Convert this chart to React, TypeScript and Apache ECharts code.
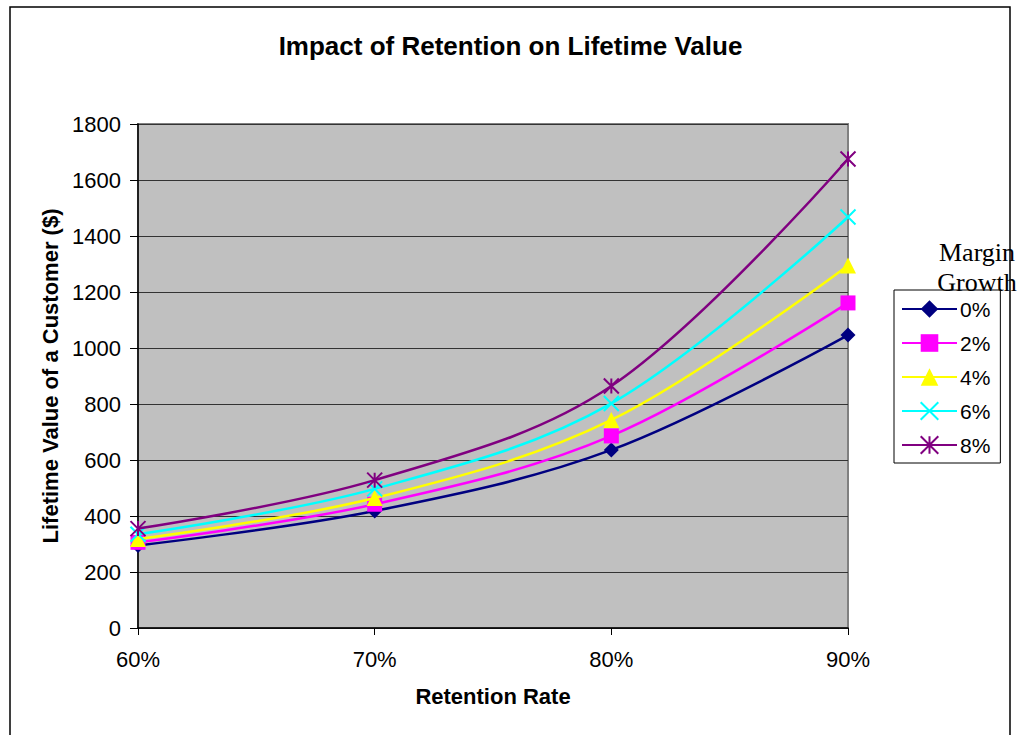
import React, { useEffect, useRef } from "react";
import * as echarts from "echarts";

const categories = ["60%", "70%", "80%", "90%"];
const seriesNames = ["0%", "2%", "4%", "6%", "8%"];
const growth0 = [295, 418, 636, 1046];
const growth2 = [306, 442, 686, 1161];
const growth4 = [318, 464, 743, 1295];
const growth6 = [335, 497, 802, 1468];
const growth8 = [355, 528, 864, 1675];
const seriesValues = [growth0, growth2, growth4, growth6, growth8];
const seriesColors = ["#000080", "#FF00FF", "#FFFF00", "#00FFFF", "#800080"];
const seriesSymbols = [
  "diamond",
  "rect",
  "triangle",
  "path://M0,0L10,10M10,0L0,10",
  "path://M0,0L10,10M10,0L0,10M5,0L5,10",
];

export default function App() {
  const ref = useRef<HTMLDivElement>(null);
  useEffect(() => {
    if (!ref.current) return;
    const chart = echarts.init(ref.current, null, { renderer: "svg" });
    const series = seriesNames.map((name, i) => {
      const strokeOnly = i >= 3;
      return {
        name,
        type: "line",
        data: seriesValues[i],
        smooth: 0.35,
        symbol: seriesSymbols[i],
        symbolSize: i === 2 ? 16 : 15,
        showAllSymbol: true,
        lineStyle: { color: seriesColors[i], width: 2.5 },
        itemStyle: strokeOnly
          ? { color: seriesColors[i], borderColor: seriesColors[i], borderWidth: 2 }
          : { color: seriesColors[i], borderWidth: 0 },
        z: 2 + i,
      };
    });
    chart.setOption({
      animation: false,
      backgroundColor: "#ffffff",
      title: {
        text: "Impact of Retention on Lifetime Value",
        left: "center",
        top: 28,
        textStyle: {
          fontFamily: "Liberation Sans, Arial, sans-serif",
          fontSize: 26,
          fontWeight: "bold",
          color: "#000",
        },
      },
      grid: {
        left: 138,
        right: 173,
        top: 124,
        bottom: 107,
        show: true,
        backgroundColor: "#C0C0C0",
        borderColor: "#808080",
        borderWidth: 2,
      },
      legend: {
        orient: "vertical",
        left: 894,
        top: 290,
        padding: [8, 10, 7, 7],
        itemWidth: 55,
        itemHeight: 22,
        itemGap: 12,
        borderColor: "#000",
        borderWidth: 1,
        backgroundColor: "#fff",
        textStyle: {
          fontFamily: "Liberation Sans, Arial, sans-serif",
          fontSize: 21,
          lineHeight: 22,
          color: "#000",
          padding: [0, 0, 0, -2],
        },
        data: seriesNames.map((n, i) =>
          i >= 3
            ? { name: n, itemStyle: { color: seriesColors[i], borderColor: seriesColors[i], borderWidth: 2 } }
            : { name: n }
        ),
      },
      xAxis: {
        type: "category",
        data: categories,
        boundaryGap: false,
        name: "Retention Rate",
        nameLocation: "middle",
        nameGap: 57,
        nameTextStyle: {
          fontFamily: "Liberation Sans, Arial, sans-serif",
          fontSize: 22,
          fontWeight: "bold",
          color: "#000",
        },
        axisLine: { lineStyle: { color: "#000", width: 1.5 } },
        axisTick: { show: true, length: 7, lineStyle: { color: "#000" } },
        axisLabel: {
          margin: 20,
          fontFamily: "Liberation Sans, Arial, sans-serif",
          fontSize: 22,
          color: "#000",
        },
        splitLine: { show: false },
      },
      yAxis: {
        type: "value",
        min: 0,
        max: 1800,
        interval: 200,
        name: "Lifetime Value of a Customer ($)",
        nameLocation: "middle",
        nameGap: 76,
        nameTextStyle: {
          fontFamily: "Liberation Sans, Arial, sans-serif",
          fontSize: 22,
          fontWeight: "bold",
          color: "#000",
        },
        axisLine: { show: true, lineStyle: { color: "#000", width: 1.5 } },
        axisTick: { show: true, length: 8, lineStyle: { color: "#000" } },
        axisLabel: {
          margin: 17,
          formatter: (v: number) => String(v),
          fontFamily: "Liberation Sans, Arial, sans-serif",
          fontSize: 22,
          color: "#000",
        },
        splitLine: { show: true, lineStyle: { color: "#333", width: 1 } },
      },
      graphic: [
        {
          type: "rect",
          shape: { x: 10, y: 7, width: 1000, height: 760 },
          style: { fill: "none", stroke: "#000", lineWidth: 1.5 },
          z: -10,
          silent: true,
        },
        {
          type: "text",
          x: 977,
          y: 267,
          style: {
            text: "Margin\nGrowth",
            fontFamily: "Liberation Serif, Times New Roman, serif",
            fontSize: 26,
            lineHeight: 30,
            fill: "#000",
            align: "center",
            verticalAlign: "middle",
          },
          z: 100,
        },
      ],
      series,
    });
    return () => chart.dispose();
  }, []);
  return (
    <div
      ref={ref}
      style={{ position: "absolute", left: 0, top: 0, width: 1021, height: 735, background: "#fff" }}
    />
  );
}
